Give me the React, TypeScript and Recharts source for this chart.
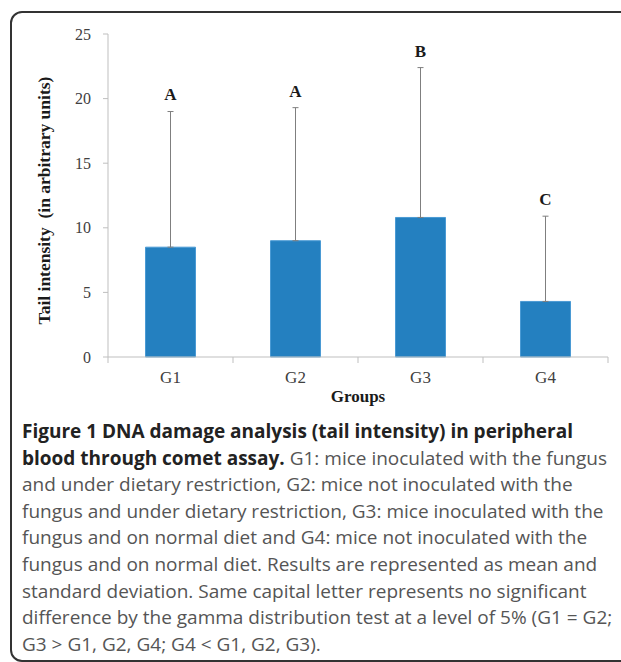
import { BarChart, Bar, XAxis, YAxis, ErrorBar, LabelList, Label } from "recharts";

const groups = ["G1", "G2", "G3", "G4"];
const means = [8.5, 9.0, 10.8, 4.3];
const sds = [10.5, 10.3, 11.6, 6.6];
const letters = ["A", "A", "B", "C"];
const yTicks = [0, 5, 10, 15, 20, 25];

const data = groups.map((g, i) => ({
  group: g,
  mean: means[i],
  err: [0, sds[i]],
  letter: letters[i],
}));

const captionLines = [
  ["Figure 1 DNA damage analysis (tail intensity) in peripheral", ""],
  ["blood through comet assay.", " G1: mice inoculated with the fungus"],
  ["", "and under dietary restriction, G2: mice not inoculated with the"],
  ["", "fungus and under dietary restriction, G3: mice inoculated with the"],
  ["", "fungus and on normal diet and G4: mice not inoculated with the"],
  ["", "fungus and on normal diet. Results are represented as mean and"],
  ["", "standard deviation. Same capital letter represents no significant"],
  ["", "difference by the gamma distribution test at a level of 5% (G1 = G2;"],
  ["", "G3 > G1, G2, G4; G4 < G1, G2, G3)."],
];

const serif = "'Liberation Serif', 'Times New Roman', serif";
const axisGray = "#bfbfbf";

function GroupTick(props: any) {
  const { x, y, payload, index, visibleTicksCount } = props;
  const off = payload.offset || 0;
  const axisY = y - 12;
  const last = index === visibleTicksCount - 1;
  return (
    <g>
      <line x1={x - off} x2={x - off} y1={axisY} y2={axisY + 6} stroke={axisGray} />
      {last && <line x1={x + off} x2={x + off} y1={axisY} y2={axisY + 6} stroke={axisGray} />}
      <text x={x} y={y + 2} dy="0.71em" textAnchor="middle" fontFamily={serif} fontSize={17} fill="#404040">
        {payload.value}
      </text>
    </g>
  );
}

function LetterLabel(props: any) {
  const { x, y, width, height, value, index } = props;
  const perUnit = height / means[index];
  const top = y - sds[index] * perUnit;
  return (
    <text x={x + width / 2} y={top - 17} dy="0.35em" textAnchor="middle" fontFamily={serif} fontWeight="bold" fontSize={17} fill="#1a1a1a">
      {value}
    </text>
  );
}

function YTitle(props: any) {
  const vb = props.viewBox;
  const cx = vb.x + 44;
  const cy = vb.y + vb.height / 2 + 5;
  return (
    <text x={cx} y={cy} dy="0.35em" textAnchor="middle" transform={`rotate(-90, ${cx}, ${cy})`} fontFamily={serif} fontWeight="bold" fontSize={17.5} fill="#1a1a1a" style={{ whiteSpace: "pre" }}>
      {"Tail intensity  (in arbitrary units)"}
    </text>
  );
}

export default function App() {
  return (
    <div style={{ position: "absolute", left: 0, top: 0, width: 621, height: 662, overflow: "hidden", background: "#fff" }}>
      <div
        style={{
          position: "absolute",
          left: 10,
          top: 11,
          width: 660,
          height: 647,
          border: "2px solid #333",
          borderRadius: 12,
        }}
      />
      <div style={{ position: "absolute", left: 0, top: 0 }}>
        <BarChart width={621} height={420} data={data} margin={{ top: 34, right: 13, left: 0, bottom: 13 }} barCategoryGap="30%">
          <YAxis
            domain={[0, 25]}
            ticks={yTicks}
            width={108}
            tickSize={5}
            tickMargin={12}
            axisLine={{ stroke: axisGray }}
            tickLine={{ stroke: axisGray }}
            tick={{ fontFamily: serif, fontSize: 16, fill: "#404040" }}
          >
            <Label content={<YTitle />} />
          </YAxis>
          <XAxis
            dataKey="group"
            height={50}
            tickSize={6}
            tickMargin={6}
            tickLine={false}
            axisLine={{ stroke: axisGray }}
            tick={<GroupTick />}
          >
            <Label value="Groups" position="insideBottom" offset={5} fontFamily={serif} fontWeight="bold" fontSize={17} fill="#1a1a1a" />
          </XAxis>
          <Bar dataKey="mean" fill="#2480c0" stroke="#4a9ad4" strokeWidth={1} isAnimationActive={false}>
            <ErrorBar dataKey="err" direction="y" width={3} stroke="#7f7f7f" strokeWidth={1} />
            <LabelList dataKey="letter" content={<LetterLabel />} />
          </Bar>
        </BarChart>
      </div>
      <div
        style={{
          position: "absolute",
          left: 22,
          top: 418,
          fontFamily: "'Open Sans', sans-serif",
          fontSize: 19,
          lineHeight: "26.6px",
          color: "#555",
          whiteSpace: "nowrap",
        }}
      >
        {captionLines.map((l, i) => (
          <div key={i}>
            {l[0] && <span style={{ fontWeight: 700, color: "#222" }}>{l[0]}</span>}
            {l[1]}
          </div>
        ))}
      </div>
    </div>
  );
}
